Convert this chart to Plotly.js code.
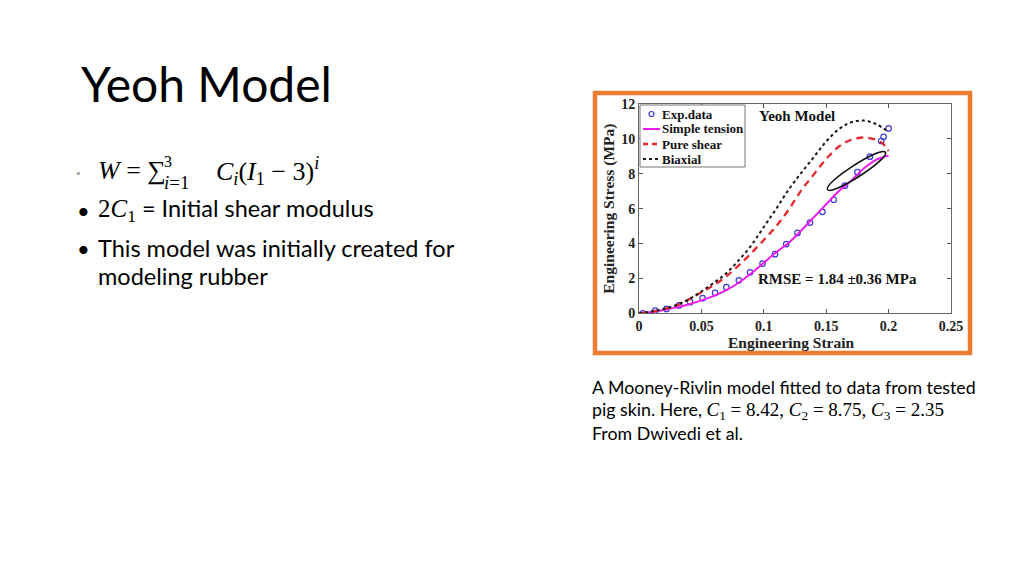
<!DOCTYPE html>
<html>
<head>
<meta charset="utf-8">
<script src="https://cdn.plot.ly/plotly-3.0.1.min.js"></script>
<style>
  html, body { margin: 0; padding: 0; background: #fff; }
  #slide { width: 1024px; height: 575px; }
</style>
</head>
<body>
<div id="slide"></div>
<script>
var expStrain = [0.003, 0.013, 0.022, 0.032, 0.041, 0.051, 0.061, 0.070, 0.080, 0.089, 0.099, 0.109,
                 0.118, 0.127, 0.137, 0.147, 0.156, 0.165, 0.175, 0.185, 0.194, 0.196, 0.200];
var expStress = [0.00, 0.15, 0.25, 0.45, 0.64, 0.87, 1.17, 1.50, 1.89, 2.35, 2.85, 3.39,
                 3.97, 4.61, 5.20, 5.82, 6.51, 7.32, 8.09, 8.98, 9.88, 10.12, 10.60];

// fitted curves
var modelStrain = [0, 0.01, 0.02, 0.03, 0.04, 0.05, 0.06, 0.07, 0.08, 0.09, 0.10,
                   0.11, 0.12, 0.13, 0.14, 0.15, 0.16, 0.17, 0.18, 0.19, 0.20];
var tensionStress = [0, 0.08, 0.20, 0.34, 0.52, 0.74, 1.00, 1.33, 1.75, 2.30, 2.90,
                     3.50, 4.05, 4.75, 5.50, 6.25, 7.00, 7.60, 8.30, 8.80, 9.05];
var shearStrain = [0, 0.01, 0.02, 0.03, 0.04, 0.05, 0.06, 0.07, 0.08, 0.09, 0.10,
                   0.11, 0.12, 0.13, 0.14, 0.15, 0.16, 0.17, 0.18, 0.19, 0.195, 0.20];
var shearStress = [0, 0.10, 0.25, 0.45, 0.80, 1.20, 1.62, 2.12, 2.75, 3.45, 4.20,
                   5.00, 5.95, 7.05, 7.95, 8.85, 9.55, 9.95, 10.08, 9.95, 9.75, 9.30];
var biaxialStress = [0, 0.10, 0.25, 0.48, 0.80, 1.25, 1.75, 2.30, 3.05, 3.90, 4.95,
                     6.00, 7.10, 8.05, 8.95, 9.85, 10.55, 10.95, 11.05, 10.85, 10.40];

var seriesNames = ['Exp.data', 'Simple tension', 'Pure shear', 'Biaxial'];

var xTicks = [0, 0.05, 0.1, 0.15, 0.2, 0.25];
var xTickText = ['0', '0.05', '0.1', '0.15', '0.2', '0.25'];
var yTicks = [0, 2, 4, 6, 8, 10, 12];

// the ellipse drawn round the end of the tension curve
var ellLeft = [0.1510, 7.09], ellRight = [0.1975, 9.23];
var ellUp = [[0.1476, 7.48], [0.1940, 9.62]];
var ellDown = [[0.2009, 8.84], [0.1545, 6.71]];

function px(x){ return x / 1024; }
function py(y){ return 1 - y / 575; }

var serif = 'Liberation Serif, Times New Roman, serif';
var body = 'Lato, Open Sans, sans-serif';

var blue = '#3b3bd6', magenta = '#ee1bee', red = '#e5282c', black = '#1a1a1a';

var data = [
  {
    x: expStrain, y: expStress,
    type: 'scatter', mode: 'markers', name: seriesNames[0],
    marker: {symbol: 'circle-open', size: 5.5, color: blue, line: {width: 1.2}}
  },
  {
    x: modelStrain, y: tensionStress,
    type: 'scatter', mode: 'lines', name: seriesNames[1],
    line: {color: magenta, width: 2, shape: 'spline'}
  },
  {
    x: shearStrain, y: shearStress,
    type: 'scatter', mode: 'lines', name: seriesNames[2],
    line: {color: red, width: 2.3, dash: '7px,5px', shape: 'spline'}
  },
  {
    x: modelStrain, y: biaxialStress,
    type: 'scatter', mode: 'lines', name: seriesNames[3],
    line: {color: black, width: 2, dash: 'dot', shape: 'spline'}
  }
];

var ellPath = 'M ' + ellLeft.join(',') +
  ' C ' + ellUp[0].join(',') + ' ' + ellUp[1].join(',') + ' ' + ellRight.join(',') +
  ' C ' + ellDown[0].join(',') + ' ' + ellDown[1].join(',') + ' ' + ellLeft.join(',') + ' Z';

var annotations = [
  // slide title
  {xref: 'paper', yref: 'paper', x: px(79), y: py(84), xanchor: 'left', yanchor: 'middle',
   text: 'Yeoh Model', showarrow: false, font: {family: body, size: 48, color: '#000'}},
  // formula line
  {xref: 'paper', yref: 'paper', x: px(74), y: py(173), xanchor: 'left', yanchor: 'middle',
   text: '•', showarrow: false, font: {family: body, size: 8, color: '#999'}},
  {xref: 'paper', yref: 'paper', x: px(96), y: py(171), xanchor: 'left', yanchor: 'middle',
   text: '<i>W</i> = ∑', showarrow: false, font: {family: serif, size: 26, color: '#000'}},
  {xref: 'paper', yref: 'paper', x: px(162), y: py(161), xanchor: 'left', yanchor: 'middle',
   text: '3', showarrow: false, font: {family: serif, size: 16, color: '#000'}},
  {xref: 'paper', yref: 'paper', x: px(162), y: py(182), xanchor: 'left', yanchor: 'middle',
   text: '<i>i</i>=1', showarrow: false, font: {family: serif, size: 19, color: '#000'}},
  {xref: 'paper', yref: 'paper', x: px(214), y: py(171), xanchor: 'left', yanchor: 'middle',
   text: '<i>C<sub>i</sub></i>(<i>I</i><sub>1</sub> − 3)<sup><i>i</i></sup>', showarrow: false,
   font: {family: serif, size: 26, color: '#000'}},
  // bullets
  {xref: 'paper', yref: 'paper', x: px(75), y: py(210), xanchor: 'left', yanchor: 'middle',
   text: '•', showarrow: false, font: {family: body, size: 22, color: '#000'}},
  {xref: 'paper', yref: 'paper', x: px(96), y: py(210), xanchor: 'left', yanchor: 'middle',
   text: '<span style="font-family:Liberation Serif;font-size:25px">2<i>C</i><sub>1</sub></span> = Initial shear modulus',
   showarrow: false, font: {family: body, size: 23.5, color: '#000'}},
  {xref: 'paper', yref: 'paper', x: px(75), y: py(248), xanchor: 'left', yanchor: 'middle',
   text: '•', showarrow: false, font: {family: body, size: 22, color: '#000'}},
  {xref: 'paper', yref: 'paper', x: px(96), y: py(248), xanchor: 'left', yanchor: 'middle',
   text: 'This model was initially created for', showarrow: false,
   font: {family: body, size: 23.5, color: '#000'}},
  {xref: 'paper', yref: 'paper', x: px(96), y: py(276), xanchor: 'left', yanchor: 'middle',
   text: 'modeling rubber', showarrow: false, font: {family: body, size: 23.5, color: '#000'}},
  // caption under the figure
  {xref: 'paper', yref: 'paper', x: px(590), y: py(387), xanchor: 'left', yanchor: 'middle',
   text: 'A Mooney-Rivlin model fitted to data from tested', showarrow: false,
   font: {family: body, size: 17.8, color: '#000'}},
  {xref: 'paper', yref: 'paper', x: px(590), y: py(410), xanchor: 'left', yanchor: 'middle',
   text: 'pig skin. Here, <span style="font-family:Liberation Serif;font-size:19px"><i>C</i><sub>1</sub> = 8.42, <i>C</i><sub>2</sub> = 8.75, <i>C</i><sub>3</sub> = 2.35</span>',
   showarrow: false, font: {family: body, size: 17.8, color: '#000'}},
  {xref: 'paper', yref: 'paper', x: px(590), y: py(433), xanchor: 'left', yanchor: 'middle',
   text: 'From Dwivedi et al.', showarrow: false, font: {family: body, size: 17.8, color: '#000'}},
  // labels inside the plot
  {xref: 'x', yref: 'y', x: 0.1262, y: 11.3, text: 'Yeoh Model', showarrow: false,
   font: {family: serif, size: 15, color: '#111', weight: 'bold'}},
  {xref: 'x', yref: 'y', x: 0.159, y: 1.95, text: 'RMSE = 1.84 ±0.36 MPa', showarrow: false,
   font: {family: serif, size: 15, color: '#111', weight: 'bold'}},
  // x axis title, set close under the tick labels
  {xref: 'paper', yref: 'paper', x: px(791), y: py(342), xanchor: 'center', yanchor: 'middle',
   text: 'Engineering Strain', showarrow: false,
   font: {family: serif, size: 15.5, color: '#222', weight: 'bold'}}
];

var shapes = [
  {type: 'rect', xref: 'paper', yref: 'paper', layer: 'below',
   x0: px(595), x1: px(970), y0: py(353), y1: py(93),
   line: {color: '#ec7d31', width: 4.5}, fillcolor: '#fff'},
  {type: 'path', xref: 'x', yref: 'y', path: ellPath,
   line: {color: '#111', width: 1.6}}
];

// MATLAB-style legend box in the upper left corner of the axes
var legX = 640, legY = 105, legW = 105, legRow = 15;
shapes.push({type: 'rect', xref: 'paper', yref: 'paper',
  x0: px(legX), x1: px(legX + legW), y0: py(legY + 4 * legRow + 2), y1: py(legY),
  line: {color: '#777', width: 1}, fillcolor: '#fff'});
for (var i = 0; i < seriesNames.length; i++) {
  var rowY = legY + 9 + i * legRow;
  var tr = data[i];
  if (tr.mode === 'markers') {
    shapes.push({type: 'circle', xref: 'paper', yref: 'paper',
      x0: px(649), x1: px(654), y0: py(rowY + 2.5), y1: py(rowY - 2.5),
      line: {color: tr.marker.color, width: 1.2}});
  } else {
    shapes.push({type: 'line', xref: 'paper', yref: 'paper',
      x0: px(643), x1: px(660), y0: py(rowY), y1: py(rowY),
      line: {color: tr.line.color, width: tr.line.width,
             dash: tr.line.dash === 'dot' ? 'dot' : (tr.line.dash ? '5px,4px' : 'solid')}});
  }
  annotations.push({xref: 'paper', yref: 'paper', x: px(660), y: py(rowY),
    xanchor: 'left', yanchor: 'middle', text: seriesNames[i], showarrow: false,
    font: {family: serif, size: 13, color: '#111', weight: 'bold'}});
}

var layout = {
  width: 1024, height: 575,
  margin: {l: 0, r: 0, t: 0, b: 0},
  paper_bgcolor: '#fff',
  plot_bgcolor: 'rgba(0,0,0,0)',
  showlegend: false,
  xaxis: {
    domain: [639 / 1024, 951 / 1024],
    range: [0, 0.25], tickvals: xTicks, ticktext: xTickText,
    ticks: 'inside', ticklen: 4, tickcolor: '#555', mirror: 'ticks',
    showline: true, linecolor: '#666', linewidth: 1, showgrid: false, zeroline: false,
    tickfont: {family: serif, size: 14, color: '#222', weight: 'bold'}
  },
  yaxis: {
    domain: [1 - 313.3 / 575, 1 - 104 / 575],
    range: [0, 12], tickvals: yTicks,
    ticks: 'inside', ticklen: 4, tickcolor: '#555', mirror: 'ticks',
    showline: true, linecolor: '#666', linewidth: 1, showgrid: false, zeroline: false,
    tickfont: {family: serif, size: 14, color: '#222', weight: 'bold'},
    title: {text: 'Engineering Stress (MPa)', standoff: 2,
            font: {family: serif, size: 15.5, color: '#222', weight: 'bold'}}
  },
  shapes: shapes,
  annotations: annotations
};

Plotly.newPlot('slide', data, layout, {staticPlot: true});
</script>
</body>
</html>
